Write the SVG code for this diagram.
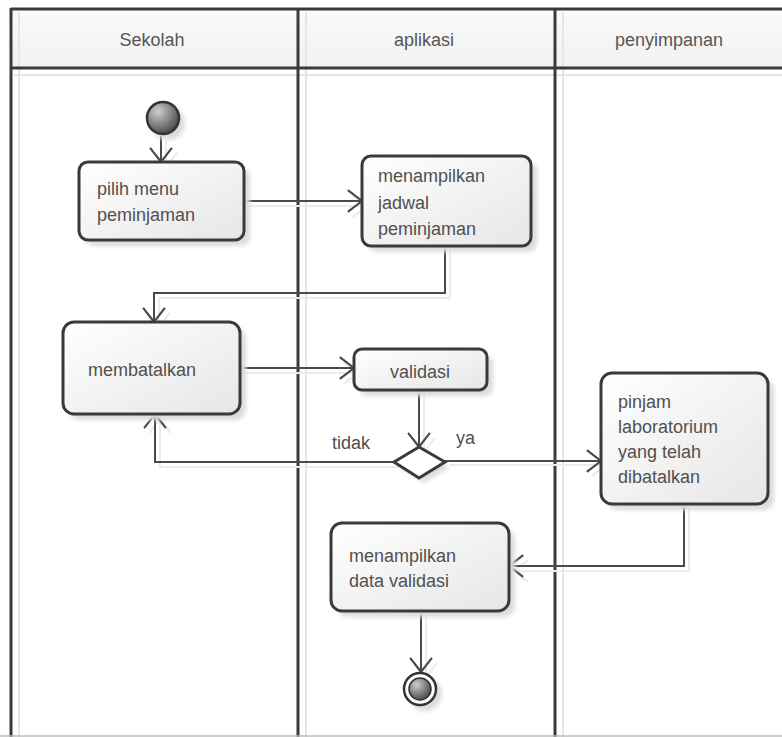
<svg xmlns="http://www.w3.org/2000/svg" width="782" height="737" viewBox="0 0 782 737">
<defs>
<style>
.lane{stroke:#3a3a3a;stroke-width:3;fill:none}
.lshadow{stroke:#e6e6e6;stroke-width:2;fill:none}
.hdr{font-family:"Liberation Sans",Arial,sans-serif;font-size:18px;fill:#555;text-anchor:middle}
.box{fill:url(#boxg);stroke:#3a3a3a;stroke-width:3}
.shadow{fill:#dcdcdc;filter:url(#blur)}
.t{font-family:"Liberation Sans",Arial,sans-serif;font-size:18px;fill:#505050}
.c{stroke:#4a4a4a;stroke-width:2;fill:none;marker-end:url(#arr)}
.cs{stroke:#ebebeb;stroke-width:2;fill:none;marker-end:url(#arrs)}
</style>
<linearGradient id="boxg" x1="0" y1="0" x2="1" y2="1">
<stop offset="0" stop-color="#ffffff"/>
<stop offset="1" stop-color="#e6e6e6"/>
</linearGradient>
<linearGradient id="hdrg" x1="0" y1="0" x2="0" y2="1">
<stop offset="0" stop-color="#fafafa"/>
<stop offset="1" stop-color="#f1f1f1"/>
</linearGradient>
<radialGradient id="ballg" cx="0.35" cy="0.3" r="0.8">
<stop offset="0" stop-color="#cfcfcf"/>
<stop offset="1" stop-color="#3c3c3c"/>
</radialGradient>
<filter id="blur" x="-10%" y="-10%" width="130%" height="130%"><feGaussianBlur stdDeviation="2"/></filter>
<marker id="arr" markerUnits="userSpaceOnUse" markerWidth="20" markerHeight="24" viewBox="-1 -11 16 22" refX="13" refY="0" orient="auto">
<path d="M0,-10 L13,0 L0,10" fill="none" stroke="#4a4a4a" stroke-width="2"/>
</marker>
<marker id="arrs" markerUnits="userSpaceOnUse" markerWidth="20" markerHeight="24" viewBox="-1 -11 16 22" refX="13" refY="0" orient="auto">
<path d="M0,-10 L13,0 L0,10" fill="none" stroke="#ebebeb" stroke-width="2"/>
</marker>
</defs>
<rect width="782" height="737" fill="#ffffff"/>

<g id="lanes">
<rect x="11" y="9" width="790" height="59" fill="url(#hdrg)"/>
<line class="lshadow" x1="19" y1="12" x2="19" y2="737"/>
<line class="lshadow" x1="306" y1="12" x2="306" y2="737"/>
<line class="lshadow" x1="563" y1="12" x2="563" y2="737"/>
<line class="lshadow" x1="14" y1="75" x2="782" y2="75"/>
<line class="lane" x1="11" y1="9" x2="782" y2="9"/>
<line class="lane" x1="11" y1="68" x2="782" y2="68"/>
<line class="lane" x1="11" y1="8" x2="11" y2="737"/>
<line class="lane" x1="298" y1="8" x2="298" y2="737"/>
<line class="lane" x1="555" y1="8" x2="555" y2="737"/>
<line x1="0" y1="736" x2="782" y2="736" stroke="#bdbdbd" stroke-width="1.5"/>
<text class="hdr" x="152" y="46">Sekolah</text>
<text class="hdr" x="424" y="46">aplikasi</text>
<text class="hdr" x="669" y="46">penyimpanan</text>
</g>

<g id="connectors">
<path class="cs" d="M166,140 V167"/>
<path class="c" d="M161,136 V162"/>
<path class="cs" d="M246,206 H367"/>
<path class="c" d="M244,201 H362"/>
<path class="cs" d="M450,248 V298 H159 V327"/>
<path class="c" d="M445,246 V293 H154 V322"/>
<path class="cs" d="M242,373 H358"/>
<path class="c" d="M240,368 H354"/>
<path class="cs" d="M424,392 V452"/>
<path class="c" d="M419,390 V447"/>
<path class="cs" d="M399,467 H160 V419"/>
<path class="c" d="M394,462 H155 V414"/>
<path class="cs" d="M450,465 H606"/>
<path class="c" d="M445,461 H601"/>
<path class="cs" d="M689,506 V571 H514"/>
<path class="c" d="M684,504 V566 H509"/>
<path class="cs" d="M426,613 V677"/>
<path class="c" d="M421,611 V672"/>
<text class="t" x="332" y="449">tidak</text>
<text class="t" x="456" y="444">ya</text>
</g>

<g id="start">
<circle cx="168" cy="123" r="17" class="shadow"/>
<circle cx="163" cy="118" r="16" fill="url(#ballg)" stroke="#333" stroke-width="2.5"/>
</g>

<g id="pilih">
<rect x="85" y="168" width="165" height="78" rx="9" class="shadow"/>
<rect x="79" y="162" width="165" height="78" rx="9" class="box"/>
<text class="t" x="97" y="195">pilih menu</text>
<text class="t" x="97" y="221">peminjaman</text>
</g>

<g id="jadwal">
<rect x="368" y="162" width="169" height="90" rx="9" class="shadow"/>
<rect x="362" y="156" width="169" height="90" rx="9" class="box"/>
<text class="t" x="378" y="182">menampilkan</text>
<text class="t" x="378" y="209">jadwal</text>
<text class="t" x="378" y="235">peminjaman</text>
</g>

<g id="membatalkan">
<rect x="69" y="328" width="177" height="92" rx="11" class="shadow"/>
<rect x="63" y="322" width="177" height="92" rx="11" class="box"/>
<text class="t" x="88" y="376">membatalkan</text>
</g>

<g id="validasi">
<rect x="360" y="355" width="133" height="41" rx="8" class="shadow"/>
<rect x="354" y="349" width="133" height="41" rx="8" class="box"/>
<text class="t" x="420" y="378" text-anchor="middle">validasi</text>
</g>

<g id="decision">
<polygon points="424,452 450,467 424,483 399,467" class="shadow"/>
<polygon points="419,447 445,462 419,478 394,462" fill="#ffffff" stroke="#3a3a3a" stroke-width="3"/>
</g>

<g id="pinjam">
<rect x="607" y="379" width="167" height="131" rx="11" class="shadow"/>
<rect x="601" y="373" width="167" height="131" rx="11" class="box"/>
<text class="t" x="618" y="408">pinjam</text>
<text class="t" x="618" y="433">laboratorium</text>
<text class="t" x="618" y="458">yang telah</text>
<text class="t" x="618" y="483">dibatalkan</text>
</g>

<g id="datavalidasi">
<rect x="337" y="529" width="178" height="88" rx="11" class="shadow"/>
<rect x="331" y="523" width="178" height="88" rx="11" class="box"/>
<text class="t" x="349" y="562">menampilkan</text>
<text class="t" x="349" y="587">data validasi</text>
</g>

<g id="end">
<circle cx="425" cy="694" r="17" class="shadow"/>
<circle cx="420" cy="689" r="16" fill="#ffffff" stroke="#333" stroke-width="2.5"/>
<circle cx="420" cy="689" r="11" fill="url(#ballg)" stroke="#333" stroke-width="1.5"/>
</g>
</svg>
